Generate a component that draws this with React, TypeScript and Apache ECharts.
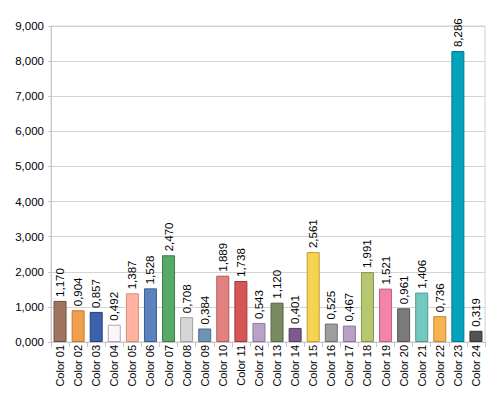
import React, { useEffect, useRef } from "react";
import * as echarts from "echarts";

const categories = [
  "Color 01", "Color 02", "Color 03", "Color 04", "Color 05", "Color 06",
  "Color 07", "Color 08", "Color 09", "Color 10", "Color 11", "Color 12",
  "Color 13", "Color 14", "Color 15", "Color 16", "Color 17", "Color 18",
  "Color 19", "Color 20", "Color 21", "Color 22", "Color 23", "Color 24",
];

const values = [
  1.17, 0.904, 0.857, 0.492, 1.387, 1.528, 2.47, 0.708, 0.384, 1.889, 1.738, 0.543,
  1.12, 0.401, 2.561, 0.525, 0.467, 1.991, 1.521, 0.961, 1.406, 0.736, 8.286, 0.319,
];

const fillColors = [
  "#9e7660", "#f0a04c", "#3a62ad", "#fcf6fb", "#ffb3a0", "#5a82bf",
  "#58a86a", "#d6d6d6", "#7093b3", "#e2817f", "#d65656", "#b9a2c8",
  "#7a8a60", "#7c5a8c", "#f8d352", "#9d9d9d", "#b9a0c7", "#b7c670",
  "#f384a9", "#7a7a7a", "#71c9bf", "#f6b34f", "#03a2bd", "#525252",
];

const borderColors = [
  "#6e4f3e", "#c07a30", "#24427a", "#b0a8b0", "#d88c78", "#3e5c8c",
  "#3c7a4a", "#a0a0a0", "#4e6a84", "#b05a5a", "#a03838", "#8a7898",
  "#566440", "#563e62", "#c0a030", "#707070", "#8a7498", "#88944c",
  "#c05c80", "#555555", "#4e9890", "#c08634", "#027a8e", "#333333",
];

const FONT = "Arial, 'Liberation Sans', sans-serif";
const fmt = (v: number) => v.toFixed(3).replace(".", ",");

export default function App() {
  const ref = useRef<HTMLDivElement>(null);
  useEffect(() => {
    const chart = echarts.init(ref.current!, null, { renderer: "svg" });
    chart.setOption({
      animation: false,
      backgroundColor: "#ffffff",
      textStyle: { fontFamily: FONT },
      grid: {
        left: 51,
        right: 15,
        top: 26,
        bottom: 51,
        show: true,
        borderColor: "#d0d0d0",
        borderWidth: 1,
      },
      xAxis: {
        type: "category",
        data: categories,
        axisLine: { show: true, lineStyle: { color: "#c8c8c8" } },
        axisTick: { show: true, length: 5, lineStyle: { color: "#c8c8c8" } },
        axisLabel: {
          rotate: 90,
          interval: 0,
          color: "#000",
          fontSize: 11,
          margin: 3,
          fontFamily: FONT,
        },
      },
      yAxis: {
        type: "value",
        min: 0,
        max: 9,
        interval: 1,
        axisLine: { show: true, lineStyle: { color: "#c8c8c8" } },
        axisTick: { show: true, length: 3, lineStyle: { color: "#c8c8c8" } },
        splitLine: { show: true, lineStyle: { color: "#d4d4d4" } },
        axisLabel: {
          formatter: (v: number) => fmt(v),
          color: "#000",
          fontSize: 11.5,
          margin: 7,
          fontFamily: FONT,
        },
      },
      series: [
        {
          type: "bar",
          barWidth: 13,
          data: values.map((v, i) => ({
            value: v,
            itemStyle: {
              color: fillColors[i],
              borderColor: borderColors[i],
              borderWidth: 1,
            },
          })),
          label: {
            show: true,
            position: "top",
            rotate: 90,
            align: "left",
            verticalAlign: "middle",
            distance: 4,
            color: "#000",
            fontSize: 11.5,
            fontFamily: FONT,
            formatter: (p: any) => fmt(p.value),
          },
        },
      ],
    });
    return () => chart.dispose();
  }, []);
  return (
    <div style={{ position: "fixed", left: 0, top: 0, width: 500, height: 393 }}>
      <div ref={ref} style={{ width: 500, height: 393 }} />
    </div>
  );
}
